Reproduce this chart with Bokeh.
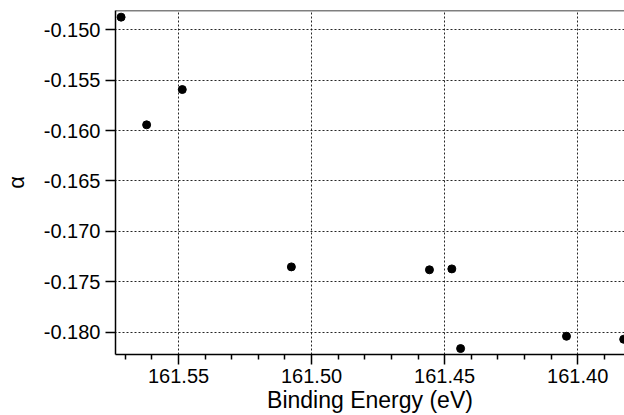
from bokeh.plotting import figure
from bokeh.models import Range1d, FixedTicker, PrintfTickFormatter, Span
from bokeh.embed import file_html
from bokeh.resources import INLINE

# Data
binding_energy = [161.5716, 161.5620, 161.5486, 161.5076, 161.4557, 161.4473, 161.4440, 161.4042, 161.3827]
alpha_values = [-0.14875, -0.15943, -0.15593, -0.17352, -0.17381, -0.17372, -0.18162, -0.18040, -0.18070]

x_major_ticks = [161.55, 161.50, 161.45, 161.40]
x_minor_ticks = [161.57, 161.56, 161.54, 161.53, 161.52, 161.51, 161.49, 161.48, 161.47,
                 161.46, 161.44, 161.43, 161.42, 161.41, 161.39]
y_major_ticks = [-0.150, -0.155, -0.160, -0.165, -0.170, -0.175, -0.180]

x_start, x_end = 161.5737, 161.3824
y_start, y_end = -0.18221, -0.14809

FONT = "Liberation Sans"

p = figure(width=624, height=415, output_backend="svg", toolbar_location=None,
           x_range=Range1d(x_start, x_end), y_range=Range1d(y_start, y_end),
           min_border_left=114, min_border_right=0, min_border_top=10, min_border_bottom=61)
p.outline_line_color = None
p.background_fill_color = "white"
p.border_fill_color = "white"

# top frame line
p.add_layout(Span(location=y_end, dimension="width", line_color="black", line_width=1.5))

# x axis
xa = p.xaxis[0]
xa.ticker = FixedTicker(ticks=x_major_ticks, minor_ticks=x_minor_ticks)
xa.formatter = PrintfTickFormatter(format="%.2f")
xa.axis_label = "Binding Energy (eV)"
xa.axis_label_text_font = FONT
xa.axis_label_text_font_size = "23px"
xa.axis_label_text_font_style = "normal"
xa.axis_label_text_color = "black"
xa.axis_label_standoff = 1
xa.major_label_text_font = FONT
xa.major_label_text_font_size = "20px"
xa.major_label_text_color = "black"
xa.major_label_standoff = 4
xa.major_tick_in = 0
xa.major_tick_out = 10
xa.minor_tick_in = 0
xa.minor_tick_out = 5
xa.axis_line_color = "black"
xa.major_tick_line_color = "black"
xa.minor_tick_line_color = "black"
xa.axis_line_width = 1.5
xa.major_tick_line_width = 1.5
xa.minor_tick_line_width = 1.5

# y axis
ya = p.yaxis[0]
ya.ticker = FixedTicker(ticks=y_major_ticks, minor_ticks=[])
ya.formatter = PrintfTickFormatter(format="%.3f")
ya.axis_label = "α"
ya.axis_label_text_font = FONT
ya.axis_label_text_font_size = "22px"
ya.axis_label_text_font_style = "normal"
ya.axis_label_text_color = "black"
ya.axis_label_standoff = 12
ya.major_label_text_font = FONT
ya.major_label_text_font_size = "20px"
ya.major_label_text_color = "black"
ya.major_label_standoff = 5
ya.major_tick_in = 0
ya.major_tick_out = 10
ya.minor_tick_line_color = None
ya.axis_line_color = "black"
ya.major_tick_line_color = "black"
ya.axis_line_width = 1.5
ya.major_tick_line_width = 1.5

# grid
for g in (p.xgrid[0], p.ygrid[0]):
    g.grid_line_color = "black"
    g.grid_line_dash = "2 2"
    g.grid_line_width = 1
    g.grid_line_alpha = 0.85
p.xgrid[0].ticker = FixedTicker(ticks=x_major_ticks)
p.ygrid[0].ticker = FixedTicker(ticks=y_major_ticks)

p.scatter(binding_energy, alpha_values, size=8, color="black", marker="circle")

open("out.html", "w").write(file_html(p, INLINE))
